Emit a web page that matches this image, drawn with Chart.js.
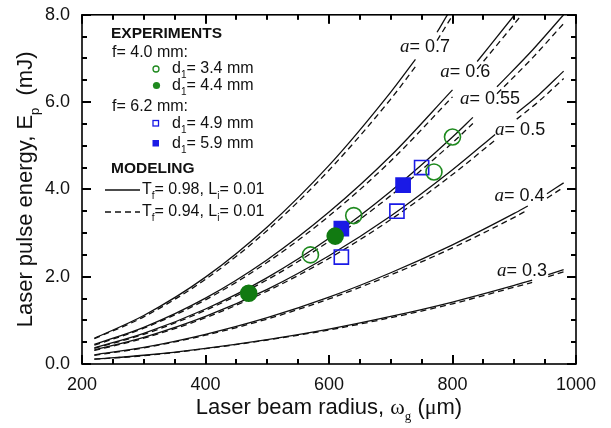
<!DOCTYPE html>
<html>
<head>
<meta charset="utf-8">
<script src="https://cdn.jsdelivr.net/npm/chart.js"></script>
<style>
  body { margin: 0; background: #fff; }
  #wrap { width: 611px; height: 428px; position: relative; }
</style>
</head>
<body>
<div id="wrap"><canvas id="c"></canvas></div>
<script>
// ---- model curves (solid: Tf=0.98, dashed: Tf=0.94), null = gap under the label
const a07X     = [220, 300, 400, 500, 600, 700, 740, 757, 775, 800, 815];
const a07Solid = [0.59, 1.11, 1.99, 3.14, 4.55, 6.23, 6.98, null, 7.60, 8.19, 8.5];
const a07Dash  = [0.58, 1.08, 1.94, 3.06, 4.44, 6.07, 6.81, null, 7.41, 7.98, 8.29];

const a06X     = [220, 300, 400, 500, 600, 700, 800, 820, 840, 900, 920];
const a06Solid = [0.45, 0.84, 1.51, 2.39, 3.48, 4.77, 6.28, null, 6.93, 7.99, 8.35];
const a06Dash  = [0.43, 0.82, 1.47, 2.33, 3.39, 4.65, 6.12, null, 6.76, 7.79, 8.14];

const a055X     = [220, 300, 400, 500, 600, 700, 800, 833, 850, 872, 930, 980];
const a055Solid = [0.37, 0.70, 1.26, 1.98, 2.88, 3.96, 5.20, 5.65, null, 6.35, 7.20, 8.00];
const a055Dash  = [0.36, 0.68, 1.23, 1.93, 2.81, 3.86, 5.07, 5.51, null, 6.19, 7.02, 7.80];

const a05X     = [220, 300, 400, 500, 600, 700, 800, 869, 886, 904, 940, 980];
const a05Solid = [0.32, 0.61, 1.09, 1.71, 2.48, 3.39, 4.45, 5.26, null, 5.75, 6.17, 6.71];
const a05Dash  = [0.31, 0.59, 1.06, 1.67, 2.42, 3.31, 4.34, 5.13, null, 5.61, 6.02, 6.54];

const a04X     = [220, 300, 400, 500, 600, 700, 800, 900, 922, 938, 953, 980];
const a04Solid = [0.21, 0.38, 0.68, 1.06, 1.53, 2.09, 2.73, 3.45, 3.62, null, 3.90, 4.15];
const a04Dash  = [0.20, 0.37, 0.66, 1.03, 1.49, 2.04, 2.66, 3.36, 3.53, null, 3.80, 4.05];

const a03X     = [220, 300, 400, 500, 600, 700, 800, 900, 929, 942, 955, 980];
const a03Solid = [0.11, 0.20, 0.36, 0.56, 0.80, 1.09, 1.42, 1.80, 1.92, null, 2.05, 2.16];
const a03Dash  = [0.11, 0.19, 0.35, 0.55, 0.78, 1.06, 1.38, 1.76, 1.87, null, 2.00, 2.11];

// ---- experiments
const d34X = [570, 640, 770, 800];  const d34Y = [2.50, 3.40, 4.40, 5.20]; // f=4.0, hollow circle
const d44X = [470, 610];            const d44Y = [1.62, 2.93];             // f=4.0, filled circle
const d49X = [620, 710, 750];       const d49Y = [2.45, 3.50, 4.50];       // f=6.2, hollow square
const d59X = [620, 720];            const d59Y = [3.10, 4.10];             // f=6.2, filled square

// curve labels (a values) and where they sit, in data units
const aLabels = ['0.7', '0.6', '0.55', '0.5', '0.4', '0.3'];
const aLabelX = [715, 780, 812, 869, 868, 872];
const aLabelY = [7.27, 6.68, 6.06, 5.37, 3.85, 2.13];

// axis tick steps (major carries a label, minor is a plain mark)
const xMajor = 200, xMinor = 50;
const yMajor = 2, yMinor = 0.5;

const SANS = '"Liberation Sans", Arial, sans-serif';
const SERIF = '"Liberation Serif", "Times New Roman", serif';
const INK = '#111';
const GREEN = '#1f8a1f';
const BLUE = '#1a1ae6';

function xy(xs, ys) { return xs.map((x, i) => ({ x: x, y: ys[i] })); }

function curve(xs, ys, dashed) {
  return {
    data: xy(xs, ys),
    borderColor: INK,
    borderWidth: 1.3,
    borderDash: dashed ? [6, 4] : [],
    pointRadius: 0,
    fill: false,
    spanGaps: false,
    cubicInterpolationMode: 'monotone',
    order: 2
  };
}

function marks(xs, ys, style, color, filled, r) {
  return {
    data: xy(xs, ys),
    showLine: false,
    pointStyle: style,
    pointRadius: r,
    pointBorderWidth: 1.6,
    pointBorderColor: color,
    pointBackgroundColor: filled ? color : 'rgba(0,0,0,0)',
    order: 0
  };
}

// draw text made of pieces: [text, font, dy]
function rich(ctx, parts, x, y) {
  let cx = x;
  parts.forEach(p => {
    ctx.font = p[1];
    ctx.fillText(p[0], cx, y + (p[2] || 0));
    cx += ctx.measureText(p[0]).width;
  });
  return cx;
}
function richWidth(ctx, parts) {
  let w = 0;
  parts.forEach(p => { ctx.font = p[1]; w += ctx.measureText(p[0]).width; });
  return w;
}

function seg(ctx, x1, y1, x2, y2) {
  ctx.beginPath();
  ctx.moveTo(x1, y1);
  ctx.lineTo(x2, y2);
  ctx.stroke();
}

const overlay = {
  id: 'overlay',
  afterDraw(chart) {
    const ctx = chart.ctx, a = chart.chartArea;
    const sx = chart.scales.x, sy = chart.scales.y;
    ctx.save();
    ctx.setLineDash([]);
    ctx.globalAlpha = 1;
    ctx.strokeStyle = '#000';
    ctx.fillStyle = '#000';
    ctx.lineWidth = 1.6;
    ctx.strokeRect(a.left, a.top, a.right - a.left, a.bottom - a.top);

    // inward ticks on all four sides, as small filled bars
    const tw = 2;
    const nx = Math.round((sx.max - sx.min) / xMinor);
    for (let i = 0; i <= nx; i++) {
      const px = Math.round(sx.getPixelForValue(sx.min + i * xMinor));
      const len = (i % Math.round(xMajor / xMinor) === 0) ? 9 : 5;
      ctx.fillRect(px - tw / 2, a.bottom - len, tw, len);
      ctx.fillRect(px - tw / 2, a.top, tw, len);
    }
    const ny = Math.round((sy.max - sy.min) / yMinor);
    for (let i = 0; i <= ny; i++) {
      const py = Math.round(sy.getPixelForValue(sy.min + i * yMinor));
      const len = (i % Math.round(yMajor / yMinor) === 0) ? 9 : 5;
      ctx.fillRect(a.left, py - tw / 2, len, tw);
      ctx.fillRect(a.right - len, py - tw / 2, len, tw);
    }

    ctx.fillStyle = INK;
    ctx.textBaseline = 'middle';
    ctx.textAlign = 'left';

    // curve labels
    aLabels.forEach((t, i) => {
      const px = sx.getPixelForValue(aLabelX[i]);
      const py = sy.getPixelForValue(aLabelY[i]);
      rich(ctx, [['a', 'italic 19px ' + SERIF], ['= ' + t, '18px ' + SANS]], px, py);
    });

    // legend block
    const f16 = '16px ' + SANS, sub = '10px ' + SANS;
    ctx.font = 'bold 15.5px ' + SANS;
    ctx.fillText('EXPERIMENTS', 111, 34);
    ctx.font = f16;
    ctx.fillText('f= 4.0 mm:', 112, 53);
    ctx.fillText('f= 6.2 mm:', 112, 107);
    const dRows = [['3.4', 69], ['4.4', 86], ['4.9', 124], ['5.9', 144]];
    dRows.forEach(r => rich(ctx, [['d', f16], ['1', sub, 6], ['= ' + r[0] + ' mm', f16]], 172, r[1]));

    ctx.lineWidth = 1.3;
    ctx.strokeStyle = GREEN;
    ctx.beginPath(); ctx.arc(156, 69, 3, 0, Math.PI * 2); ctx.stroke();
    ctx.fillStyle = GREEN;
    ctx.beginPath(); ctx.arc(156.5, 85.5, 3.6, 0, Math.PI * 2); ctx.fill();
    ctx.strokeStyle = BLUE;
    ctx.strokeRect(153, 120.5, 5.5, 5.5);
    ctx.fillStyle = BLUE;
    ctx.fillRect(152.5, 140, 6.5, 6.5);

    ctx.fillStyle = INK;
    ctx.strokeStyle = INK;
    ctx.font = 'bold 15.5px ' + SANS;
    ctx.fillText('MODELING', 111, 169);
    seg(ctx, 105, 190, 140, 190);
    ctx.setLineDash([6, 4]);
    seg(ctx, 105, 212, 140, 212);
    ctx.setLineDash([]);
    rich(ctx, [['T', f16], ['f', sub, 6], ['= 0.98, L', f16], ['i', sub, 6], ['= 0.01', f16]], 142, 190);
    rich(ctx, [['T', f16], ['f', sub, 6], ['= 0.94, L', f16], ['i', sub, 6], ['= 0.01', f16]], 142, 212);

    // axis titles
    const f22 = '22px ' + SANS, s22 = '22px ' + SERIF, sub13 = '13px ' + SERIF;
    const xt = [['Laser beam radius, ', f22], ['\u03c9', s22], ['g', sub13, 9], [' (', f22], ['\u03bc', s22], ['m)', f22]];
    const cx = (a.left + a.right) / 2;
    rich(ctx, xt, cx - richWidth(ctx, xt) / 2, 408);

    const yt = [['Laser pulse energy, E', f22], ['p', '13px ' + SANS, 9], ['  (mJ)', f22]];
    ctx.save();
    ctx.translate(26, (a.top + a.bottom) / 2);
    ctx.rotate(-Math.PI / 2);
    rich(ctx, yt, -richWidth(ctx, yt) / 2, 0);
    ctx.restore();

    ctx.restore();
  }
};

new Chart(document.getElementById('c'), {
  type: 'line',
  data: {
    datasets: [
      marks(d34X, d34Y, 'circle', GREEN, false, 8),
      marks(d44X, d44Y, 'circle', '#117a11', true, 8),
      marks(d49X, d49Y, 'rect', BLUE, false, 10),
      marks(d59X, d59Y, 'rect', BLUE, true, 10),
      curve(a07X, a07Solid, false), curve(a07X, a07Dash, true),
      curve(a06X, a06Solid, false), curve(a06X, a06Dash, true),
      curve(a055X, a055Solid, false), curve(a055X, a055Dash, true),
      curve(a05X, a05Solid, false), curve(a05X, a05Dash, true),
      curve(a04X, a04Solid, false), curve(a04X, a04Dash, true),
      curve(a03X, a03Solid, false), curve(a03X, a03Dash, true)
    ]
  },
  options: {
    responsive: true,
    maintainAspectRatio: false,
    animation: false,
    layout: { padding: { top: 13, right: 35, left: 0, bottom: 0 } },
    plugins: { legend: { display: false }, tooltip: { enabled: false } },
    scales: {
      x: {
        type: 'linear', min: 200, max: 1000,
        afterFit: s => { s.height = 64; },
        grid: { display: false },
        border: { display: false },
        ticks: { stepSize: xMajor, maxRotation: 0, padding: 2, color: INK, font: { family: SANS, size: 18 },
                 callback: v => String(v) }
      },
      y: {
        type: 'linear', min: 0, max: 8,
        afterFit: s => { s.width = 82; },
        grid: { display: false },
        border: { display: false },
        ticks: { stepSize: yMajor, padding: 4, color: INK, font: { family: SANS, size: 18 },
                 callback: v => v.toFixed(1) }
      }
    }
  },
  plugins: [overlay]
});
</script>
</body>
</html>
